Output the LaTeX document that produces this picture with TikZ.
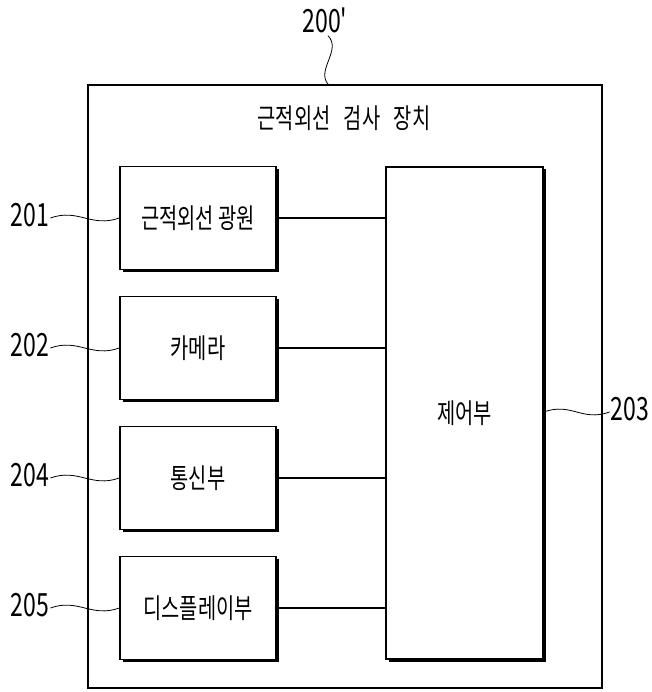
\documentclass[tikz,border=0pt]{standalone}
\usepackage{fontspec}
\newfontfamily\kfont[FakeStretch=0.72]{Noto Sans CJK KR}
\begin{document}
\begin{tikzpicture}[x=1pt,y=-1pt,
  blk/.style={draw,line width=1.4pt,fill=white,minimum width=156pt,minimum height=103pt,inner sep=0pt,font=\kfont\fontsize{27.5}{30}\selectfont},
  ref/.style={font=\kfont\fontsize{32}{34}\selectfont,inner sep=0pt},
  lead/.style={line width=0.8pt},
  conn/.style={line width=1.4pt}]
\useasboundingbox (0,0) rectangle (651,692);
% outer box
\node[draw,line width=1.8pt,minimum width=514pt,minimum height=603pt,inner sep=0pt] (outer) at (345,386.5) {};
\node[font=\kfont\fontsize{27.5}{30}\selectfont,inner sep=0pt] (title) at (344,118) {근적외선\hspace{9pt} 검사\hspace{9pt} 장치};
% shadows
\foreach \yy in {218,348,478,608}{\fill (198+2.5-78,\yy+2.5-51.5) rectangle (198+2.5+78,\yy+2.5+51.5);}
\fill (464.5+2.5-78.5,413+2.5-246) rectangle (464.5+2.5+78.5,413+2.5+246);
\node[blk] (b1) at (198,218) {근적외선 광원};
\node[blk] (b2) at (198,348) {카메라};
\node[blk] (b3) at (198,478) {통신부};
\node[blk] (b4) at (198,608) {디스플레이부};
\node[blk,minimum width=157pt,minimum height=492pt] (ctrl) at (464.5,413) {제어부};
\foreach \b in {b1,b2,b3,b4}{\draw[conn] (\b.east) -- (\b.east -| ctrl.west);}
% reference labels
\node[ref] (r200) at (325,20) {200'};
\node[ref] (r201) at (30,215) {201};
\node[ref] (r202) at (30,345) {202};
\node[ref] (r204) at (30,475) {204};
\node[ref] (r205) at (30,605) {205};
\node[ref] (r203) at (630,409) {203};
\draw[lead] (r200.south) ++(3,3) coordinate (s200) .. controls +(14,14) and +(-12,-14) .. (s200 |- outer.north);
\foreach \r/\b in {r201/b1,r202/b2,r204/b3,r205/b4}{
  \draw[lead] (\r.east |- \b.west) ++(1,0) .. controls +(28,-10) and +(-28,10) .. (\b.west);}
\draw[lead] (ctrl.east |- 0,412) .. controls +(28,-10) and +(-28,10) .. ([xshift=-1pt]r203.west |- 0,412);
\end{tikzpicture}
\end{document}
